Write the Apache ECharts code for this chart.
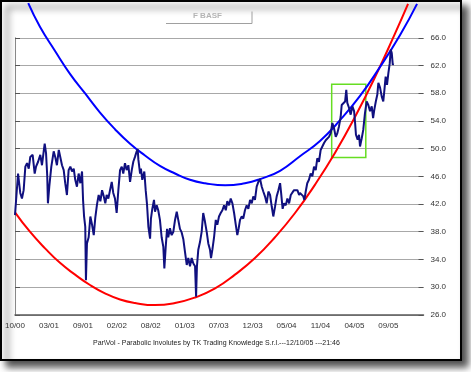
<!DOCTYPE html>
<html>
<head>
<meta charset="utf-8">
<script src="https://cdn.jsdelivr.net/npm/echarts@6/dist/echarts.min.js"></script>
<style>
html,body{margin:0;padding:0;background:#fff;}
#c{width:471px;height:372px;}
</style>
</head>
<body>
<div id="c"></div>
<script>
// x unit: 1/20 of the spacing between two date labels
const xLabels = ['10/00','03/01','09/01','02/02','08/02','01/03','07/03','12/03','05/04','11/04','04/05','09/05'];
const yTicks = [26,30,34,38,42,46,50,54,58,62,66];

const priceT = [
  0,0.6,1.8,3.1,4.1,5.1,6.1,7.1,8.1,9.0,
  10.4,11.6,12.4,13.6,14.9,15.9,16.9,17.5,18.3,19.0,
  19.4,20.2,21.4,22.8,23.7,24.7,25.8,26.7,27.7,28.7,
  29.6,30.6,31.6,32.6,33.6,34.6,35.5,36.5,37.5,38.5,
  39.5,40.1,40.7,41.4,41.8,42.4,43.4,44.4,45.4,46.4,
  47.3,48.3,49.3,50.3,51.3,52.3,53.2,54.0,55.0,56.0,
  57.0,57.9,58.9,59.9,60.9,61.9,62.9,63.8,64.8,65.8,
  66.8,67.8,68.8,69.7,70.7,71.7,72.3,72.7,73.7,74.2,
  75.0,76.2,77.0,77.8,78.6,79.6,80.1,80.9,81.9,82.5,
  83.5,84.4,85.4,86.4,87.4,88.0,88.8,89.6,90.3,91.3,
  92.3,93.3,94.3,95.3,96.2,97.2,98.2,99.2,100.2,101.2,
  102.1,103.1,104.1,105.1,106.1,106.7,107.2,108.0,109.0,110.0,
  110.9,111.9,113.0,113.9,114.9,115.5,116.3,117.3,118.3,119.2,
  120.2,121.2,122.2,123.2,124.2,125.1,126.1,127.1,128.1,129.1,
  130.1,131.0,131.8,132.6,133.6,134.5,135.5,136.5,137.5,138.5,
  139.5,140.4,141.4,142.4,143.4,144.4,145.4,146.3,147.3,148.3,
  149.3,150.3,151.3,152.2,153.2,154.2,155.2,156.2,156.8,157.7,
  158.5,159.5,160.5,161.5,162.5,163.4,164.4,165.4,166.4,167.4,
  167.9,168.9,169.9,170.5,171.3,172.2,173.2,174.2,175.2,176.2,
  177.2,178.1,179.1,180.1,181.1,182.1,183.1,184.0,185.0,186.0,
  187.0,188.0,189.0,189.9,190.9,191.9,192.5,193.5,194.5,195.2,
  195.8,196.8,197.8,198.8,199.8,200.4,200.9,201.9,202.7,203.3,
  204.3,205.2,206.2,207.2,208.2,209.2,210.2,211.0,211.7,212.6,
  213.5,214.1,215.1,216.1,217.0,217.6,218.4,219.2,220.0,220.8,
  221.4,222.0,222.6,222.9
];
const priceV = [
  40.4,42.4,46.4,43.6,42.8,44.0,47.4,47.9,47.1,48.8,
  49.1,46.4,47.4,48.1,49.1,47.6,49.6,50.7,49.3,46.0,
  42.1,44.5,47.4,49.6,48.8,47.6,49.8,49.6,47.6,46.9,
  45.0,43.3,46.9,47.4,46.7,47.1,45.5,44.5,46.4,45.0,
  46.7,42.6,40.2,38.7,31.0,36.3,37.2,40.2,39.0,37.5,
  40.0,41.9,43.3,42.4,44.0,43.1,42.1,43.3,42.8,44.0,
  45.2,43.6,42.8,40.7,44.0,46.9,47.4,46.4,47.9,46.9,
  47.6,45.2,46.9,48.1,48.8,49.6,49.9,48.4,46.4,47.1,
  45.5,46.7,44.0,41.9,38.7,37.0,39.9,41.3,42.6,40.9,
  41.8,41.1,39.7,37.2,35.8,32.7,35.8,38.4,37.2,38.5,
  37.5,38.0,39.7,40.9,39.7,38.4,37.9,36.9,35.0,33.2,
  34.2,33.0,34.2,33.4,33.0,28.6,33.0,35.4,36.5,38.0,
  40.7,39.5,37.9,36.3,35.4,34.2,35.4,37.2,39.7,39.0,
  40.2,40.7,41.1,41.8,41.1,42.4,41.8,42.8,42.1,40.7,
  39.0,37.5,38.5,39.7,40.2,39.9,41.1,41.8,41.3,42.6,
  42.1,43.1,42.6,44.5,45.2,45.6,44.5,43.8,43.1,42.1,
  43.8,43.3,41.6,40.2,41.6,43.1,44.0,45.0,43.6,41.3,
  42.1,41.8,42.8,42.1,43.3,43.1,44.0,43.8,44.0,43.3,
  43.6,43.8,43.1,42.6,43.8,45.0,45.5,46.4,46.0,47.4,
  46.9,48.6,48.1,49.8,49.6,50.8,51.2,51.0,51.7,52.2,
  53.7,52.9,51.7,52.2,53.2,54.6,56.3,56.1,56.8,58.5,
  56.6,55.9,54.9,56.1,55.4,53.7,52.0,51.3,52.0,50.3,
  51.5,52.7,55.1,56.8,56.3,55.4,56.1,54.4,55.6,56.8,
  57.8,59.5,58.8,57.5,56.8,58.3,60.4,59.2,60.9,62.3,
  64.3,63.8,62.1,62.3
];

const blueT = [7.8,14.7,23.6,32.4,41.2,50.1,58.9,67.8,76.6,85.4,94.3,103.1,112.0,123.8,135.5,144.4,156.2,167.9,179.7,191.5,203.3,215.1,226.9,236.9];
const blueV = [71.0,67.6,64.1,60.8,58.0,55.2,52.8,50.7,49.0,47.5,46.4,45.5,45.0,44.7,45.0,45.6,46.8,48.9,51.1,54.1,57.6,61.8,66.4,70.9];

const redT = [0,8.8,17.7,26.5,35.4,44.2,53.0,61.9,70.7,82.5,94.3,106.1,117.9,129.6,141.4,153.2,165.0,176.8,188.6,200.4,212.1,223.9,231.6];
const redV = [40.8,38.0,35.6,33.5,31.8,30.3,29.1,28.2,27.7,27.4,27.7,28.5,29.8,31.8,34.2,37.2,40.7,44.8,49.4,54.6,60.3,66.6,70.9];

const boxT = [186.6,206.7];
const boxV = [48.7,59.3];

const pairs = (t, v) => t.map((x, i) => [x, v[i]]);

const chart = echarts.init(document.getElementById('c'), null, {renderer: 'canvas'});
const FONT = 'Liberation Sans, Arial, sans-serif';

chart.setOption({
  animation: false,
  backgroundColor: '#ffffff',
  grid: {left: 15, right: 47.5, top: 37.8, bottom: 57.2, containLabel: false},
  xAxis: {
    type: 'value', min: 0, max: 240.7, interval: 20,
    axisLine: {show: true, lineStyle: {color: '#5a5a5a', width: 1.5}},
    axisTick: {show: false},
    splitLine: {show: false},
    axisLabel: {
      fontSize: 8, color: '#333333', fontFamily: FONT, margin: 7,
      showMaxLabel: false,
      formatter: v => { const k = Math.round(v / 20); return (Math.abs(v - k * 20) < 1e-6 && xLabels[k]) ? xLabels[k] : ''; }
    }
  },
  yAxis: [{
    type: 'value', position: 'right', min: yTicks[0], max: yTicks[yTicks.length - 1], interval: 4,
    axisLine: {show: true, lineStyle: {color: '#888888', width: 1}},
    axisTick: {show: true, length: 5, lineStyle: {color: '#555555'}},
    splitLine: {show: true, lineStyle: {color: '#a8a8a8', width: 1}},
    axisLabel: {fontSize: 8, color: '#333333', fontFamily: FONT, margin: 7, formatter: v => v.toFixed(1)}
  }, {
    type: 'value', position: 'right', min: yTicks[0], max: yTicks[yTicks.length - 1], interval: 4,
    axisLine: {show: false},
    axisTick: {show: true, inside: true, length: 5, lineStyle: {color: '#555555'}},
    splitLine: {show: false},
    axisLabel: {show: false}
  }],
  graphic: [
    {type: 'rect', z: -100, shape: {x: 1, y: 1, width: 460, height: 359},
     style: {fill: '#ffffff', stroke: '#000000', lineWidth: 2, shadowBlur: 7, shadowOffsetX: 6, shadowOffsetY: 6, shadowColor: 'rgba(0,0,0,0.7)'}},
    {type: 'polyline', z: 1, shape: {points: [[166, 23.5], [252, 23.5], [252, 11.5]]},
     style: {stroke: '#a0a0a0', lineWidth: 1, fill: null}},
    {type: 'text', z: 1, left: 193, top: 12,
     style: {text: 'F BASF', fill: '#b4b4b4', font: 'bold 8px ' + FONT}},
    {type: 'text', z: 1, left: 93, top: 340,
     style: {text: 'Par\\Vol - Parabolic Involutes by TK Trading Knowledge S.r.l.---12/10/05 ---21:46', fill: '#222222', font: '7px ' + FONT}}
  ],
  series: [
    {type: 'line', name: 'red', data: pairs(redT, redV), smooth: true, showSymbol: false, clip: false,
     lineStyle: {color: '#ff0000', width: 2}, z: 3},
    {type: 'line', name: 'blue', data: pairs(blueT, blueV), smooth: true, showSymbol: false, clip: false,
     lineStyle: {color: '#0000ff', width: 2}, z: 3},
    {type: 'line', name: 'price', data: pairs(priceT, priceV), showSymbol: false, clip: false,
     lineStyle: {color: '#10107f', width: 2}, z: 4,
     markArea: {silent: true, itemStyle: {color: 'rgba(0,0,0,0)', borderColor: '#66dd22', borderWidth: 1.5},
       data: [[{coord: [boxT[0], boxV[1]]}, {coord: [boxT[1], boxV[0]]}]]}}
  ]
});
</script>
</body>
</html>
